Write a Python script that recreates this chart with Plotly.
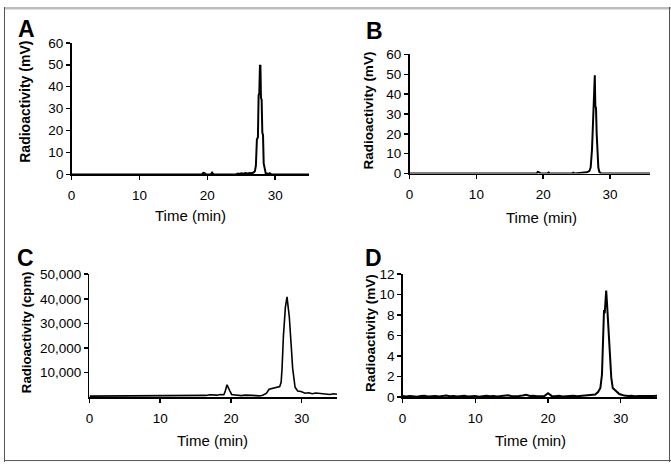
import plotly.graph_objects as go

# ---------------- data ----------------
# Panel A (mV)
time_a = [0, 19.2, 19.4, 19.6, 19.8, 20.5, 20.7, 20.9, 24.2, 24.5, 24.7, 25.0, 25.3, 25.6, 25.9, 26.2,
          26.5, 26.8, 27.0, 27.15, 27.3, 27.45, 27.55, 27.65, 27.75, 27.82, 27.9, 28.0, 28.1, 28.2,
          28.3, 28.45, 28.6, 28.8, 29.0, 29.2, 29.4, 35]
signal_a = [0, 0, 0.7, 0.6, 0, 0, 0.8, 0, 0, 0.4, 0.2, 0.5, 0.3, 0.6, 0.4, 0.7,
            0.6, 0.9, 1.5, 4, 16, 17, 36, 37, 49.5, 49.5, 35, 34, 19, 18,
            5, 1.5, 0.5, 0.4, 0.2, 0.6, 0.1, 0]

# Panel B (mV)
time_b = [0, 19.0, 19.2, 19.4, 19.6, 20.6, 20.8, 21.0, 24.3, 24.5, 24.7, 25.5, 26.0, 26.5, 26.9,
          27.1, 27.3, 27.45, 27.55, 27.65, 27.72, 27.8, 27.9, 28.0, 28.1, 28.25, 28.4, 28.6, 29.0, 36]
signal_b = [0, 0, 0.8, 0.6, 0, 0, 0.5, 0, 0, 0.4, 0, 0.2, 0.4, 0.6, 1.2,
            3, 12, 30, 40, 49.5, 49.5, 34, 33, 20, 10, 3, 0.8, 0.2, 0, 0]

# Panel C (cpm)
time_c = [0, 14.8, 15.2, 15.8, 16.5, 17.0, 17.5, 18.0, 18.5, 19.0, 19.2, 19.45, 19.8, 20.1, 20.6,
          21.0, 21.5, 22.0, 22.5, 23.0, 23.5, 24.0, 24.5, 25.0, 25.4, 26.0, 26.5, 26.9, 27.1,
          27.23, 27.42, 27.7, 27.93, 28.26, 28.5, 28.73, 29.07, 29.44, 29.9, 30.5, 31.0, 31.5,
          32.0, 32.5, 33.0, 33.5, 34.0, 34.5, 35.0]
signal_c = [400, 400, 700, 600, 700, 1000, 900, 800, 1100, 1000, 2500, 5000, 2800, 1100, 900,
            700, 600, 800, 600, 700, 600, 500, 800, 1500, 3200, 3700, 3900, 4300, 6000,
            11700, 24700, 36500, 40800, 32500, 22000, 11700, 4000, 2500, 2300, 1600, 1800, 1400,
            1700, 1500, 1300, 1400, 1100, 1400, 1200]

# Panel D (mV)
time_d = [0, 0.5, 1, 1.5, 2, 2.5, 3, 3.5, 4, 4.5, 5, 5.5, 6, 6.5, 7, 7.5, 8, 8.5, 9, 9.5,
          10, 10.5, 11, 11.5, 12, 12.5, 13, 13.5, 14, 14.5, 15, 15.5, 16, 16.5, 17, 17.5,
          18, 18.5, 19, 19.5, 20, 20.5, 21, 21.5, 22, 22.5, 23, 23.5, 24, 24.5, 25, 25.5,
          26, 26.5, 26.88, 27.2, 27.42, 27.56, 27.7, 27.8, 28.0, 28.1, 28.24, 28.46, 28.7,
          28.9, 29.3, 29.8, 30.5, 31, 31.5, 32, 32.5, 33, 33.5, 34, 34.5, 35]
signal_d = [0.10, 0.06, 0.12, 0.08, 0.05, 0.11, 0.14, 0.07, 0.09, 0.12, 0.06, 0.10, 0.15, 0.08,
            0.11, 0.06, 0.09, 0.13, 0.07, 0.10, 0.12, 0.05, 0.09, 0.14, 0.08, 0.11, 0.06, 0.10,
            0.13, 0.18, 0.09, 0.07, 0.12, 0.15, 0.22, 0.11, 0.14, 0.08, 0.12, 0.10, 0.38, 0.12,
            0.09, 0.13, 0.07, 0.11, 0.10, 0.14, 0.09, 0.12, 0.18, 0.20, 0.22, 0.25, 0.5, 0.9,
            2.2, 5.3, 8.5, 8.2, 10.4, 9.3, 7.8, 4.4, 1.9, 0.9, 0.6, 0.3, 0.15, 0.10, 0.13,
            0.08, 0.12, 0.10, 0.14, 0.09, 0.11, 0.13]

panel_letters = ["A", "B", "C", "D"]
y_titles = ["Radioactivity (mV)", "Radioactivity (mV)", "Radioactivity (cpm)", "Radioactivity (mV)"]
x_title = "Time (min)"
c_tickvals = [10000, 20000, 30000, 40000, 50000]

# ---------------- layout helpers ----------------
W, H = 671, 470
def px(x):
    return x / W
def py(y):
    return 1 - y / H

FONT = "Arial, Liberation Sans, sans-serif"

fig = go.Figure()
series = [(time_a, signal_a, 2.0), (time_b, signal_b, 2.0), (time_c, signal_c, 1.6), (time_d, signal_d, 2.0)]
for i, (t, s, w) in enumerate(series):
    n = "" if i == 0 else str(i + 1)
    fig.add_trace(go.Scatter(x=t, y=s, mode="lines", line=dict(color="black", width=w),
                             xaxis="x" + n, yaxis="y" + n, showlegend=False, hoverinfo="skip"))

# domains in pixels: (x0, x1, ytop, ybottom), ranges
panels = [
    (68, 307, 37, 173, [0, 35], [0, 60], 10),
    (408, 650, 49, 172, [0, 36], [0, 60], 10),
    (86, 335, 276, 403, [0, 35], [0, 50000], 10000),
    (401, 657, 276, 403, [0, 35], [0, 12], 2),
]

axis_common = dict(showgrid=False, zeroline=False, showline=True, linecolor="black", linewidth=1.5,
                   ticks="outside", ticklen=4, tickwidth=1.5, tickcolor="black",
                   tickfont=dict(family=FONT, size=13.5, color="black"))

layout = dict(width=W, height=H, margin=dict(l=0, r=0, t=0, b=0),
              paper_bgcolor="white", plot_bgcolor="white", showlegend=False)

for i, (x0, x1, yt, yb, xr, yr, dt) in enumerate(panels):
    n = "" if i == 0 else str(i + 1)
    xa = dict(axis_common, domain=[px(x0), px(x1)], range=xr, anchor="y" + n,
              tickvals=[0, 10, 20, 30], ticklabelstandoff=4)
    ya = dict(axis_common, domain=[py(yb), py(yt)], range=yr, anchor="x" + n, dtick=dt, tick0=0)
    if i == 2:
        ya.update(tickvals=c_tickvals, tickformat=",d")
    layout["xaxis" + n] = xa
    layout["yaxis" + n] = ya

fig.update_layout(**layout)

# titles and panel letters
letter_pos = [(23, 23), (373, 25), (22, 259), (372, 259)]
ytitle_pos = [(21, 98), (367, 107), (22, 336), (368, 337)]
xtitle_pos = [(188, 215), (541, 217), (210, 448), (530, 448)]
ytitle_size = [14, 13.5, 13.2, 13.5]
ann = []
for i in range(4):
    ann.append(dict(text=panel_letters[i], x=px(letter_pos[i][0]), y=py(letter_pos[i][1]),
                    xref="paper", yref="paper", showarrow=False, xanchor="center", yanchor="middle",
                    font=dict(family=FONT, size=23, color="black", weight="bold")))
    ann.append(dict(text=y_titles[i], x=px(ytitle_pos[i][0]), y=py(ytitle_pos[i][1]),
                    xref="paper", yref="paper", showarrow=False, xanchor="center", yanchor="middle",
                    textangle=-90, font=dict(family=FONT, size=ytitle_size[i], color="black", weight="bold")))
    ann.append(dict(text=x_title, x=px(xtitle_pos[i][0]), y=py(xtitle_pos[i][1]),
                    xref="paper", yref="paper", showarrow=False, xanchor="center", yanchor="middle",
                    font=dict(family=FONT, size=15, color="black")))
fig.update_layout(annotations=ann)

# frame around the figure
fig.update_layout(shapes=[
    dict(type="rect", xref="paper", yref="paper", x0=0, x1=1, y0=py(2.5), y1=1,
         fillcolor="#bdbdbd", line=dict(width=0)),
    dict(type="line", xref="paper", yref="paper", x0=px(0.5), x1=px(0.5), y0=0, y1=1,
         line=dict(color="#555555", width=1)),
    dict(type="line", xref="paper", yref="paper", x0=px(669.5), x1=px(669.5), y0=0, y1=1,
         line=dict(color="#555555", width=1)),
    dict(type="line", xref="paper", yref="paper", x0=0, x1=1, y0=py(468.5), y1=py(468.5),
         line=dict(color="#555555", width=1)),
])

fig.write_html("out.html", config={"displayModeBar": False, "staticPlot": True},
               post_script="document.body.style.margin='0';document.body.style.overflow='hidden';")
